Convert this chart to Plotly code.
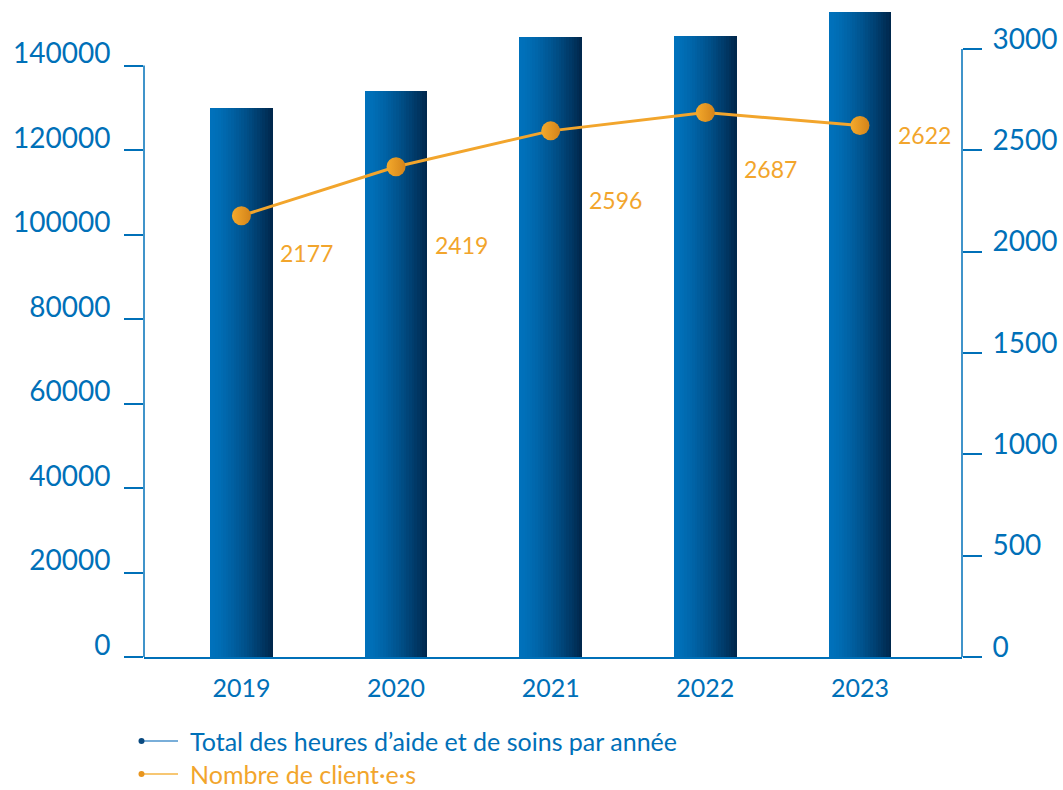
import plotly.graph_objects as go

# ---- data ----
years = ["2019", "2020", "2021", "2022", "2023"]
heures = [130000, 134000, 146700, 147000, 152700]
clients = [2177, 2419, 2596, 2687, 2622]
left_ticks = [0, 20000, 40000, 60000, 80000, 100000, 120000, 140000]
right_ticks = [0, 500, 1000, 1500, 2000, 2500, 3000]
legend_labels = ["Total des heures d\u2019aide et de soins par ann\u00e9e", "Nombre de client\u00b7e\u00b7s"]

# ---- style ----
FONT = "Lato"
BLUE = "#0070b8"
ORANGE = "#f2a52c"
W, H = 1063, 790
ML, MR, MT, MB = 144, 101, 5, 133
PW, PH = W - ML - MR, H - MT - MB
label_yshift = [-37, -78, -69, -57, -9]
label_xshift = 65


def px_x(px):
    return (px - ML) / PW


def px_y(py):
    return (H - MB - py) / PH


def mix(c1, c2, t):
    a = [int(c1[i:i + 2], 16) for i in (1, 3, 5)]
    b = [int(c2[i:i + 2], 16) for i in (1, 3, 5)]
    return "#" + "".join(f"{round(a[k] + (b[k] - a[k]) * t):02x}" for k in range(3))


fig = go.Figure()

# bars drawn as thin side-by-side slices to reproduce the horizontal gradient
BAR_W = 0.405
N = 24
sw = BAR_W / N
for i in range(N):
    t = (i / (N - 1)) ** 1.4
    fig.add_trace(go.Bar(
        x=years, y=heures,
        width=sw * (1.6 if i < N - 1 else 1.0),
        offset=-BAR_W / 2 + i * sw,
        marker=dict(color=mix("#0071bb", "#00284d", t), line=dict(width=0)),
        showlegend=False, hoverinfo="skip" if i else None,
        name=legend_labels[0],
    ))

fig.add_trace(go.Scatter(
    x=years, y=clients, yaxis="y2", mode="lines+markers",
    line=dict(color=ORANGE, width=3),
    marker=dict(size=19, color="#f4aa2c",
                gradient=dict(type="horizontal", color="#d3831a")),
    name=legend_labels[1], showlegend=False,
))

annotations = []
for i, (v, dy) in enumerate(zip(clients, label_yshift)):
    annotations.append(dict(
        x=i, y=v, xref="x", yref="y2", text=str(v), showarrow=False,
        xshift=label_xshift, yshift=dy,
        font=dict(family=FONT, size=23, color=ORANGE),
    ))

# manual legend
leg_y = [741, 774]
leg_col_line = ["#4d93cc", "#f5b445"]
leg_col_dot = ["#0a4a80", "#e8951e"]
leg_col_txt = [BLUE, ORANGE]
shapes = []
for ly, lab, cl, cd, ct in zip(leg_y, legend_labels, leg_col_line, leg_col_dot, leg_col_txt):
    shapes.append(dict(type="line", xref="paper", yref="paper",
                       x0=px_x(141), x1=px_x(178), y0=px_y(ly), y1=px_y(ly),
                       line=dict(color=cl, width=1.5)))
    shapes.append(dict(type="circle", xref="paper", yref="paper",
                       x0=px_x(138.5), x1=px_x(144.5), y0=px_y(ly + 3), y1=px_y(ly - 3),
                       fillcolor=cd, line=dict(width=0)))
    annotations.append(dict(x=px_x(188), y=px_y(ly), xref="paper", yref="paper",
                            xanchor="left", yanchor="middle", showarrow=False,
                            text=lab, font=dict(family=FONT, size=25, color=ct)))

# axis lines (span only the labelled range)
shapes.append(dict(type="line", xref="paper", yref="y", x0=0, x1=0,
                   y0=0, y1=left_ticks[-1], line=dict(color=BLUE, width=1.5)))
shapes.append(dict(type="line", xref="paper", yref="y2", x0=1, x1=1,
                   y0=0, y1=right_ticks[-1], line=dict(color=BLUE, width=1.5)))

XR = [-0.63, 4.66]
fig.update_layout(
    width=W, height=H,
    margin=dict(l=ML, r=MR, t=MT, b=MB, pad=0, autoexpand=False),
    paper_bgcolor="white", plot_bgcolor="white",
    barmode="overlay", bargap=0,
    showlegend=False,
    font=dict(family=FONT, color=BLUE),
    xaxis=dict(type="category", range=XR, showgrid=False, zeroline=False, automargin=False,
               showline=True, linecolor=BLUE, linewidth=1.5, ticks="",
               tickfont=dict(family=FONT, size=25, color=BLUE), ticklabelstandoff=8),
    xaxis2=dict(type="linear", range=XR, overlaying="x", anchor="y", side="bottom",
                automargin=False,
                tickvals=[0.5, 1.5, 2.5, 3.5], ticks="inside", ticklen=14,
                tickcolor=BLUE, tickwidth=1.5, showticklabels=False,
                showgrid=False, zeroline=False, showline=False),
    yaxis=dict(range=[0, 154320], tickvals=left_ticks, ticktext=[str(v) for v in left_ticks],
               ticks="outside", ticklen=19, automargin=False,
               tickcolor=BLUE, tickwidth=1.5, showgrid=False, zeroline=False,
               showline=False, tickfont=dict(family=FONT, size=28, color=BLUE),
               ticklabelshift=-12, ticklabelstandoff=8),
    yaxis2=dict(range=[0, 3217], tickvals=right_ticks, ticktext=[str(v) for v in right_ticks],
                overlaying="y", side="right", automargin=False,
                anchor="x", ticks="outside", ticklen=19, tickcolor=BLUE, tickwidth=1.5,
                showgrid=False, zeroline=False, showline=False,
                tickfont=dict(family=FONT, size=28, color=BLUE),
                ticklabelshift=-10, ticklabelstandoff=5),
    shapes=shapes,
    annotations=annotations,
)

fig.write_html("out.html", config={"displayModeBar": False},
               post_script="document.body.style.margin='0';document.body.style.overflow='hidden';")
